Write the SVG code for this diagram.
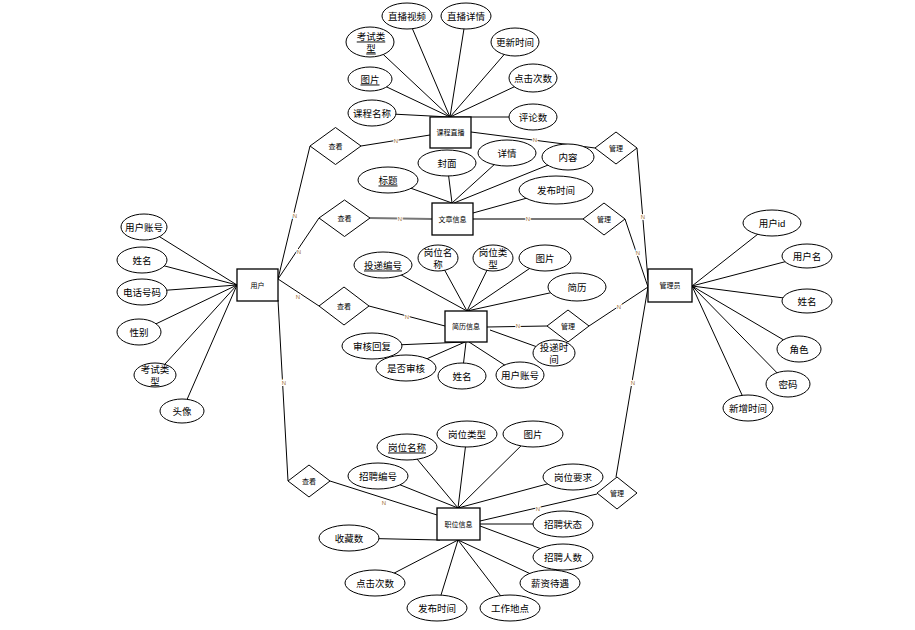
<svg xmlns="http://www.w3.org/2000/svg" width="915" height="630" viewBox="0 0 915 630">
<style>
text{font-family:"Liberation Sans","Noto Sans CJK SC",sans-serif;fill:#000;text-anchor:middle;dominant-baseline:central}
.a{font-size:9.5px}
.e{font-size:7px}
.l{stroke:#000;stroke-width:1;fill:none}
.g{stroke:#777;stroke-width:2;fill:none}
.n{font-size:6px;fill:#a07030;stroke:#fff;stroke-width:2;paint-order:stroke}
ellipse{fill:#fff;stroke:#000;stroke-width:1}
rect{fill:#fff;stroke:#000;stroke-width:1.3}
polygon{fill:#fff;stroke:#000;stroke-width:1}
.u{text-decoration:underline}
</style>
<rect x="0" y="0" width="915" height="630" style="fill:#fff;stroke:none"/>
<g id="connectors">
<!-- 课程直播 attributes -->
<path class="l" d="M407,16L450,117M466,16L450,117M370,42L450,117M515,42L450,117M370,79L450,117M533,78L450,117M372,113L450,117M533,117L450,117"/>
<!-- 文章信息 attributes -->
<path class="l" d="M388,180L452,203M447,163L452,203M507,153L452,203M568,157L454,203M556,190L473,213"/>
<!-- 简历信息 attributes -->
<path class="l" d="M383,265L467,311M438,258L467,311M493,258L467,311M545,258L467,311M577,287L467,311"/>
<path class="l" d="M372,346L465,342M406,368L465,342M462,376L466,342M520,375L469,342M490,330L554,353"/>
<!-- 职位信息 attributes -->
<path class="l" d="M407,447L458,508M467,434L458,508M533,434L458,508M378,476L458,508M573,477L458,508"/>
<path class="l" d="M480,524L563,524M480,526L563,557"/>
<path class="l" d="M349,538L440,540M375,583L458,540M437,608L458,540M510,608L458,540M550,583L458,540"/>
<!-- 用户 attributes -->
<path class="l" d="M144,227L237,285M142,260L237,285M142,292L237,285M139,332L237,285M155,375L237,285M182,411L237,285"/>
<!-- 管理员 attributes -->
<path class="l" d="M772,223L692,286M807,256L692,286M807,301L692,286M799,349L692,286M788,384L692,286M748,408L692,286"/>
<!-- relationships -->
<path class="l" d="M278,279L310,146M278,279L319,218M278,279L319,306M278,300L288,481"/>
<path class="l" d="M361,146L430,135M369,306L445,326M330,481L437,515"/>
<path class="g" d="M370,218L432,219M473,219L583,219"/>
<path class="l" d="M471,132L595,148M637,148L648,280M625,219L648,287M487,327L547,326M589,326L648,287M480,521L597,494M616,477L648,287"/>
<text class="n" x="295" y="216">N</text>
<text class="n" x="299" y="252">N</text>
<text class="n" x="298" y="297">N</text>
<text class="n" x="284" y="383">N</text>
<text class="n" x="396" y="141">N</text>
<text class="n" x="400" y="219">N</text>
<text class="n" x="407" y="317">N</text>
<text class="n" x="384" y="503">N</text>
<text class="n" x="535" y="140">N</text>
<text class="n" x="643" y="217">N</text>
<text class="n" x="528" y="219">N</text>
<text class="n" x="638" y="253">N</text>
<text class="n" x="518" y="326">N</text>
<text class="n" x="619" y="307">N</text>
<text class="n" x="538" y="509">N</text>
<text class="n" x="633" y="383">N</text>
</g>
<!-- entities -->
<g id="e-course"><rect x="430" y="117" width="41" height="31"/><text class="e" x="450.5" y="132.5">课程直播</text></g>
<g id="e-article"><rect x="432" y="203" width="41" height="32"/><text class="e" x="452.5" y="219">文章信息</text></g>
<g id="e-resume"><rect x="445" y="311" width="42" height="31"/><text class="e" x="466" y="326.5">简历信息</text></g>
<g id="e-job"><rect x="437" y="508" width="43" height="32"/><text class="e" x="458.5" y="524">职位信息</text></g>
<g id="e-user"><rect x="237" y="269" width="41" height="32"/><text class="e" x="257.5" y="285">用户</text></g>
<g id="e-admin"><rect x="648" y="269" width="44" height="33"/><text class="e" x="670" y="285.5">管理员</text></g>
<!-- relationship diamonds -->
<g id="r-view1"><polygon points="310,146 335.5,127.5 361,146 335.5,164.5"/><text class="e" x="335.5" y="146">查看</text></g>
<g id="r-view2"><polygon points="319,218 344.5,200 370,218 344.5,236.5"/><text class="e" x="344.5" y="218">查看</text></g>
<g id="r-view3"><polygon points="319,306 344,287 369,306 344,325"/><text class="e" x="344" y="306">查看</text></g>
<g id="r-view4"><polygon points="288,481 309,465 330,481 309,497"/><text class="e" x="309" y="481">查看</text></g>
<g id="r-manage1"><polygon points="595,148 616,132 637,148 616,164"/><text class="e" x="616" y="148">管理</text></g>
<g id="r-manage2"><polygon points="583,219 604,203 625,219 604,235"/><text class="e" x="604" y="219">管理</text></g>
<g id="r-manage3"><polygon points="547,326 568,310 589,326 568,342"/><text class="e" x="568" y="326">管理</text></g>
<g id="r-manage4"><polygon points="597,493 617,477 637,493 617,509"/><text class="e" x="617" y="493">管理</text></g>
<!-- 课程直播 attributes -->
<g id="a-c1"><ellipse cx="407" cy="16" rx="25" ry="13"/><text class="a" x="407" y="16">直播视频</text></g>
<g id="a-c2"><ellipse cx="466" cy="16" rx="25" ry="13"/><text class="a" x="466" y="16">直播详情</text></g>
<g id="a-c3"><ellipse cx="370" cy="42" rx="24" ry="15"/><text class="a u" x="371" y="36">考试类</text><text class="a u" x="371" y="48">型</text></g>
<g id="a-c4"><ellipse cx="515" cy="42" rx="24" ry="14"/><text class="a" x="515" y="42">更新时间</text></g>
<g id="a-c5"><ellipse cx="370" cy="79" rx="22" ry="12"/><text class="a u" x="370" y="79">图片</text></g>
<g id="a-c6"><ellipse cx="533" cy="78" rx="24" ry="14"/><text class="a" x="533" y="78">点击次数</text></g>
<g id="a-c7"><ellipse cx="372" cy="113" rx="24" ry="13"/><text class="a" x="372" y="113">课程名称</text></g>
<g id="a-c8"><ellipse cx="533" cy="117" rx="24" ry="13"/><text class="a" x="533" y="117">评论数</text></g>
<!-- 文章信息 attributes -->
<g id="a-a1"><ellipse cx="388" cy="180" rx="30" ry="13"/><text class="a u" x="388" y="180">标题</text></g>
<g id="a-a2"><ellipse cx="447" cy="163" rx="29" ry="13"/><text class="a" x="447" y="163">封面</text></g>
<g id="a-a3"><ellipse cx="507" cy="153" rx="29" ry="13"/><text class="a" x="507" y="153">详情</text></g>
<g id="a-a4"><ellipse cx="568" cy="157" rx="26" ry="13"/><text class="a" x="568" y="157">内容</text></g>
<g id="a-a5"><ellipse cx="556" cy="190" rx="37" ry="14"/><text class="a" x="556" y="190">发布时间</text></g>
<!-- 简历信息 attributes -->
<g id="a-r1"><ellipse cx="383" cy="265" rx="29" ry="13"/><text class="a u" x="383" y="265">投递编号</text></g>
<g id="a-r2"><ellipse cx="438" cy="258" rx="20" ry="13"/><text class="a" x="438" y="252">岗位名</text><text class="a" x="438" y="264">称</text></g>
<g id="a-r3"><ellipse cx="493" cy="258" rx="20" ry="13"/><text class="a" x="493" y="252">岗位类</text><text class="a" x="493" y="264">型</text></g>
<g id="a-r4"><ellipse cx="545" cy="258" rx="26" ry="13"/><text class="a" x="545" y="258">图片</text></g>
<g id="a-r5"><ellipse cx="577" cy="287" rx="29" ry="14"/><text class="a" x="577" y="287">简历</text></g>
<g id="a-r6"><ellipse cx="372" cy="346" rx="30" ry="13"/><text class="a" x="372" y="346">审核回复</text></g>
<g id="a-r7"><ellipse cx="406" cy="368" rx="30" ry="13"/><text class="a" x="406" y="368">是否审核</text></g>
<g id="a-r8"><ellipse cx="462" cy="376" rx="24" ry="13"/><text class="a" x="462" y="376">姓名</text></g>
<g id="a-r9"><ellipse cx="520" cy="375" rx="24" ry="13"/><text class="a" x="520" y="375">用户账号</text></g>
<g id="a-r10"><ellipse cx="554" cy="353" rx="21" ry="13"/><text class="a" x="554" y="347">投递时</text><text class="a" x="554" y="359">间</text></g>
<!-- 职位信息 attributes -->
<g id="a-j1"><ellipse cx="407" cy="447" rx="30" ry="13"/><text class="a u" x="407" y="447">岗位名称</text></g>
<g id="a-j2"><ellipse cx="467" cy="434" rx="30" ry="13"/><text class="a" x="467" y="434">岗位类型</text></g>
<g id="a-j3"><ellipse cx="533" cy="434" rx="30" ry="13"/><text class="a" x="533" y="434">图片</text></g>
<g id="a-j4"><ellipse cx="378" cy="476" rx="30" ry="13"/><text class="a" x="378" y="476">招聘编号</text></g>
<g id="a-j5"><ellipse cx="573" cy="477" rx="30" ry="13"/><text class="a" x="573" y="477">岗位要求</text></g>
<g id="a-j6"><ellipse cx="563" cy="524" rx="30" ry="13"/><text class="a" x="563" y="524">招聘状态</text></g>
<g id="a-j7"><ellipse cx="563" cy="557" rx="30" ry="13"/><text class="a" x="563" y="557">招聘人数</text></g>
<g id="a-j8"><ellipse cx="349" cy="538" rx="30" ry="13"/><text class="a" x="349" y="538">收藏数</text></g>
<g id="a-j9"><ellipse cx="375" cy="583" rx="30" ry="13"/><text class="a" x="375" y="583">点击次数</text></g>
<g id="a-j10"><ellipse cx="550" cy="583" rx="30" ry="13"/><text class="a" x="550" y="583">薪资待遇</text></g>
<g id="a-j11"><ellipse cx="437" cy="608" rx="30" ry="13"/><text class="a" x="437" y="608">发布时间</text></g>
<g id="a-j12"><ellipse cx="510" cy="608" rx="30" ry="13"/><text class="a" x="510" y="608">工作地点</text></g>
<!-- 用户 attributes -->
<g id="a-u1"><ellipse cx="144" cy="227" rx="23" ry="13"/><text class="a" x="144" y="227">用户账号</text></g>
<g id="a-u2"><ellipse cx="142" cy="260" rx="25" ry="13"/><text class="a" x="142" y="260">姓名</text></g>
<g id="a-u3"><ellipse cx="142" cy="292" rx="25" ry="13"/><text class="a" x="142" y="292">电话号码</text></g>
<g id="a-u4"><ellipse cx="139" cy="332" rx="22" ry="13"/><text class="a" x="139" y="332">性别</text></g>
<g id="a-u5"><ellipse cx="155" cy="375" rx="21" ry="12"/><text class="a" x="155" y="369">考试类</text><text class="a" x="155" y="381">型</text></g>
<g id="a-u6"><ellipse cx="182" cy="411" rx="22" ry="12"/><text class="a" x="182" y="411">头像</text></g>
<!-- 管理员 attributes -->
<g id="a-m1"><ellipse cx="772" cy="223" rx="29" ry="13"/><text class="a" x="772" y="223">用户id</text></g>
<g id="a-m2"><ellipse cx="807" cy="256" rx="25" ry="12"/><text class="a" x="807" y="256">用户名</text></g>
<g id="a-m3"><ellipse cx="807" cy="301" rx="25" ry="12"/><text class="a" x="807" y="301">姓名</text></g>
<g id="a-m4"><ellipse cx="799" cy="349" rx="22" ry="13"/><text class="a" x="799" y="349">角色</text></g>
<g id="a-m5"><ellipse cx="788" cy="384" rx="22" ry="13"/><text class="a" x="788" y="384">密码</text></g>
<g id="a-m6"><ellipse cx="748" cy="408" rx="25" ry="13"/><text class="a" x="748" y="408">新增时间</text></g>
</svg>
